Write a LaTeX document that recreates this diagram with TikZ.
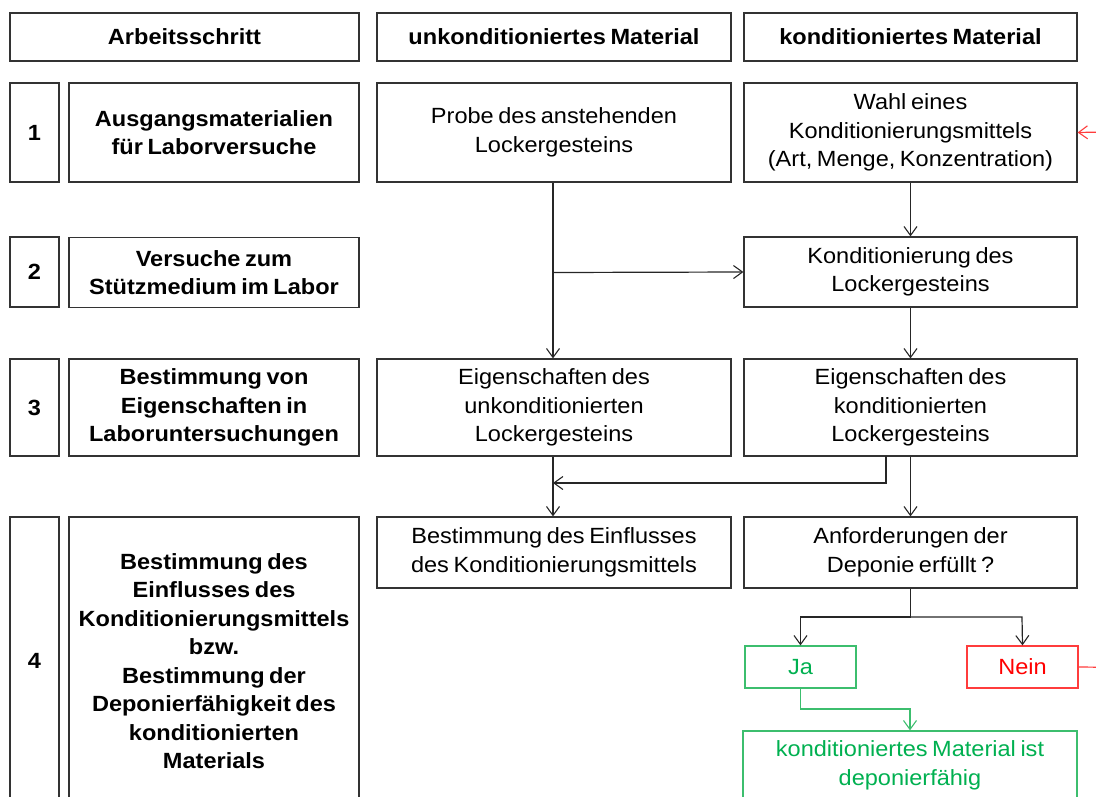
\documentclass[tikz,border=0pt]{standalone}
\usepackage{fontspec}
\setmainfont{Liberation Sans}[FakeStretch=1.07,WordSpace=0.7]
\usetikzlibrary{arrows.meta}
\definecolor{okgreen}{RGB}{0,176,80}
\definecolor{okgreenb}{RGB}{60,190,110}
\definecolor{nored}{RGB}{255,0,0}
\definecolor{nob}{RGB}{255,60,60}
\tikzset{
  box/.style={draw=black!80, line width=1.2pt, align=center, inner sep=2pt,
    font=\fontsize{22}{28.5}\selectfont},
  bbox/.style={box, font=\fontsize{22}{28.5}\selectfont\bfseries},
  conn/.style={draw=black!85, line width=1.2pt, -{Straight Barb[length=9pt,width=13pt,line width=1.1pt]}},
  plain/.style={draw=black!85, line width=1.2pt},
  gbox/.style={box, draw=okgreenb, text=okgreen},
  rbox/.style={box, draw=nob, text=nored},
}
\begin{document}
\begin{tikzpicture}[x=1pt,y=-1pt]
\useasboundingbox (0,0) rectangle (1096,796);
% header
\node[bbox, minimum width=349, minimum height=48] (hA) at (184.5,37) {Arbeitsschritt};
\node[bbox, minimum width=354, minimum height=48] (hB) at (554,37) {unkonditioniertes Material};
\node[bbox, minimum width=333, minimum height=48] (hC) at (910.5,37) {konditioniertes Material};
% row 1
\node[bbox, minimum width=49, minimum height=99] (n1) at (34.5,132.5) {1};
\node[bbox, minimum width=290, minimum height=99] (s1) at (214,132.5) {Ausgangsmaterialien\\für Laborversuche};
\node[box, minimum width=354, minimum height=99] (probe) at (554,132.5) {Probe des anstehenden\\Lockergesteins};
\node[box, minimum width=333, minimum height=99] (wahl) at (910.5,132.5) {Wahl eines\\Konditionierungsmittels\\(Art, Menge, Konzentration)};
% row 2
\node[bbox, minimum width=49, minimum height=70] (n2) at (34.5,272) {2};
\node[bbox, minimum width=290, minimum height=70] (s2) at (214,272.5) {Versuche zum\\Stützmedium im Labor};
\node[box, minimum width=333, minimum height=70] (kond) at (910.5,272) {Konditionierung des\\Lockergesteins};
% row 3
\node[bbox, minimum width=49, minimum height=97] (n3) at (34.5,407.5) {3};
\node[bbox, minimum width=290, minimum height=97] (s3) at (214,407.5) {Bestimmung von\\Eigenschaften in\\Laboruntersuchungen};
\node[box, minimum width=354, minimum height=97] (eu) at (554,407.5) {Eigenschaften des\\unkonditionierten\\Lockergesteins};
\node[box, minimum width=333, minimum height=97] (ek) at (910.5,407.5) {Eigenschaften des\\konditionierten\\Lockergesteins};
% row 4
\node[bbox, minimum width=49, minimum height=288] (n4) at (34.5,661) {4};
\node[bbox, minimum width=290, minimum height=288] (s4) at (214,661) {Bestimmung des\\Einflusses des\\Konditionierungsmittels\\bzw.\\Bestimmung der\\Deponierfähigkeit des\\konditionierten\\Materials};
\node[box, minimum width=354, minimum height=71] (best) at (554,552.5) {Bestimmung des Einflusses\\des Konditionierungsmittels};
\node[box, minimum width=333, minimum height=71] (anf) at (910.5,552.5) {Anforderungen der\\Deponie erfüllt ?};
\node[gbox, minimum width=111, minimum height=42] (ja) at (800.5,667) {Ja};
\node[rbox, minimum width=111, minimum height=42] (nein) at (1022.5,667) {Nein};
\node[gbox, minimum width=334, minimum height=69] (ok) at (910,765.5) {konditioniertes Material ist\\deponierfähig};
% coordinates
\coordinate (pL) at (553,182);
\coordinate (br) at (553,272.5);
\coordinate (ekL) at (886,456);
\coordinate (ekT) at (886,483);
\coordinate (join) at (553,483);
\coordinate (split) at (910.5,617);
\coordinate (jaT) at (800.5,617);
\coordinate (neinT) at (1022,617);
\coordinate (jaB) at (800.5,709);
\coordinate (rb) at (1130,667.5);
\coordinate (rt) at (1130,131.5);
% connectors
\draw[conn] (probe.south -| pL) -- (eu.north -| pL);
\draw[conn] (br) -- (kond.west);
\draw[conn] (wahl.south) -- (kond.north);
\draw[conn] (kond.south) -- (ek.north);
\draw[conn] (ekL) -- (ekT) -- (join);
\draw[conn] (eu.south -| pL) -- (best.north -| pL);
\draw[conn] (ek.south) -- (anf.north);
\draw[plain] (anf.south) -- (split);
\draw[conn] (split) -- (jaT) -- (ja.north);
\draw[conn] (split) -- (neinT) -- (nein.north);
\draw[conn, draw=okgreenb] (ja.south) -- (jaB) -| (ok.north);
\draw[conn, draw=nob] (nein.east) -- (rb) -- (rt) -- (wahl.east);
\end{tikzpicture}
\end{document}
